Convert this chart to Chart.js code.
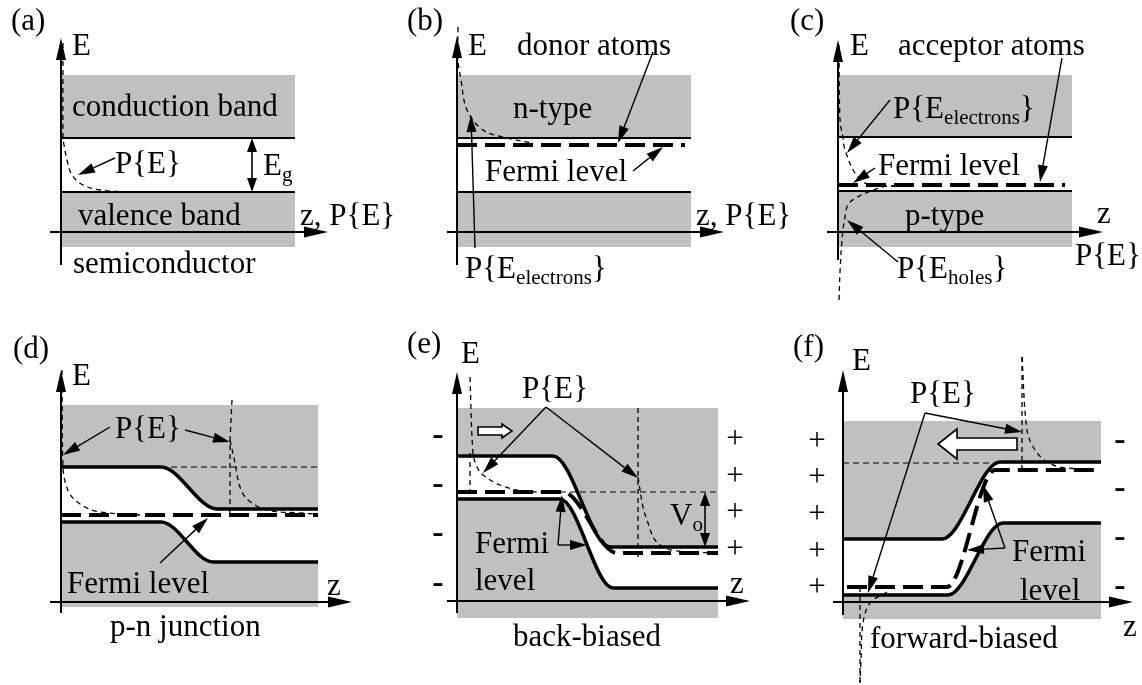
<!DOCTYPE html>
<html>
<head>
<meta charset="utf-8">
<script src="https://cdn.jsdelivr.net/npm/chart.js@4.4.0/dist/chart.umd.min.js"></script>
<style>
  body { margin: 0; background: #fff; }
  canvas { display: block; }
</style>
</head>
<body>
<canvas id="bands" width="1142" height="685"></canvas>
<script>
// ---- data: z (position) and E (energy) values per panel, arbitrary units ----
// (a) intrinsic semiconductor
var aBoxes = [[0, 234, 157, 94], [0, 234, 40, -15]];      // [z0, z1, Etop, Ebottom]
var aConduction = [[0, 94], [234, 94]];
var aValence = [[0, 40], [234, 40]];
var aProb = [[2, 189], [2, 94], [3, 87], [6, 72], [11, 57], [22, 47], [39, 42], [69, 40]];

// (b) n-type
var bBoxes = [[0, 234, 157, 94], [0, 234, 40, -15]];
var bConduction = [[0, 94], [234, 94]];
var bValence = [[0, 40], [234, 40]];
var bFermi = [[0, 87], [228, 87]];
var bProb = [[1, 205], [1, 172], [4, 152], [10, 122], [26, 102], [50, 94], [75, 89]];

// (c) p-type
var cBoxes = [[0, 234, 157, 95], [0, 234, 41, -15]];
var cConduction = [[0, 95], [234, 95]];
var cValence = [[0, 41], [234, 41]];
var cFermi = [[0, 47], [227, 47]];
var cElectrons = [[1, 187], [2, 112], [5, 94], [7, 82], [17, 59], [29, 48], [47, 46], [67, 46]];
var cHoles = [[67, 46], [45, 45], [12, 30], [7, 15], [4, -8], [2, -40], [1, -70]];

// (d) p-n junction
var dBoxes = [[0, 257, 197, -5]];
var dConduction = [[0, 135], [100, 135], [156, 93], [257, 93]];
var dValence = [[0, 80], [100, 80], [152, 40], [257, 40]];
var dFermi = [[0, 87], [257, 87]];
var dRef = [[100, 135], [257, 135]];
var dProbLeft = [[1, 232], [2, 135], [5, 117], [11, 105], [24, 95], [39, 90], [79, 87]];
var dProbRightAxis = [[171, 202], [169, 162], [169, 87]];
var dProbRight = [[169, 162], [174, 139], [179, 115], [187, 102], [206, 92], [239, 89], [257, 88]];

// (e) back-biased
var eBoxes = [[0, 261, 193, -17]];
var eConduction = [[0, 145], [96, 145], [153, 54], [261, 54]];
var eValence = [[0, 102], [103, 102], [156, 13], [261, 13]];
var eFermi = [[0, 109], [106, 109], [160, 48], [261, 48]];
var eRef = [[93, 109], [261, 109]];
var eProbLeftAxis = [[13, 148], [13, 109]];
var eProbLeft = [[13, 224], [16, 148], [20, 134], [26, 126], [43, 116], [66, 110], [93, 109]];
var eProbRightAxis = [[181, 193], [181, 44]];
var eProbRight = [[181, 124], [186, 94], [191, 78], [198, 61], [211, 52], [233, 49], [258, 48]];

// (f) forward-biased
var fBoxes = [[0, 258, 181, -17]];
var fConduction = [[0, 63], [99, 63], [157, 140], [258, 140]];
var fValence = [[0, 7], [105, 7], [160, 79], [258, 79]];
var fFermi = [[4, 15], [104, 15], [152, 132], [255, 132]];
var fRef = [[0, 139], [164, 139]];
var fProbLeftAxis = [[17, 15], [17, -81]];
var fProbLeft = [[44, 10], [27, -1], [20, -21], [18, -58], [17, -81]];
var fProbRightAxis = [[179, 245], [179, 130]];
var fProbRight = [[179, 245], [184, 172], [192, 152], [204, 140], [217, 135], [237, 133]];

// ---- labels and arrows, placed in each panel's (z, E) units ----
var notes = {
  a: {
    axes: { x: [-11, 267], y: [-33, 194] },
    texts: [['(a)', -50, 210], ['E', 11, 185], ['conduction band', 11, 124], ['P{E}', 54, 67],
            ['E', 202, 65, 'g'], ['valence band', 17, 15], ['z, P{E}', 239, 15], ['semiconductor', 12, -33]],
    arrows: [[[54, 74], [17, 57]]],
    doubles: [[[191, 94], [191, 40]]]
  },
  b: {
    axes: { x: [-10, 267], y: [-33, 196] },
    texts: [['(b)', -50, 210], ['E', 11, 185], ['donor atoms', 60, 185], ['n-type', 56, 122],
            ['Fermi level', 28, 59], ['z, P{E}', 239, 15], ['P{E', 8, -38, 'electrons', '}']],
    arrows: [[[196, 180], [161, 89]], [[176, 61], [206, 85]], [[18, -16], [14, 117]]]
  },
  c: {
    axes: { x: [-11, 265], y: [-28, 192] },
    texts: [['(c)', -48, 210], ['E', 12, 185], ['acceptor atoms', 60, 185], ['P{E', 55, 122, 'electrons', '}'],
            ['Fermi level', 40, 65], ['p-type', 67, 15], ['z', 259, 17], ['P{E}', 237, -25],
            ['P{E', 59, -38, 'holes', '}']],
    arrows: [[[224, 174], [202, 50]], [[52, 132], [9, 79]], [[37, 64], [15, 49]], [[60, -30], [9, 12]]]
  },
  d: {
    axes: { x: [-11, 291], y: [-11, 232] },
    texts: [['(d)', -48, 252], ['E', 11, 225], ['P{E}', 54, 172], ['Fermi level', 6, 17],
            ['z', 266, 15], ['p-n junction', 49, -26]],
    arrows: [[[49, 175], [2, 147]], [[124, 172], [169, 160]], [[99, 39], [147, 84]]]
  },
  e: {
    axes: { x: [-10, 293], y: [-12, 229] },
    texts: [['(e)', -50, 256], ['E', 4, 246], ['P{E}', 65, 211], ['Fermi', 18, 56], ['level', 18, 19],
            ['V', 213, 84, 'o'], ['z', 273, 16], ['back-biased', 56, -37]],
    arrows: [[[89, 194], [26, 128]], [[89, 194], [181, 123]], [[101, 56], [105, 106]], [[101, 56], [130, 56]]],
    doubles: [[[248, 109], [248, 54]]],
    signs: [['-', -19, 165], ['-', -19, 116], ['-', -19, 67], ['-', -19, 17],
            ['+', 278, 161], ['+', 278, 124], ['+', 278, 88], ['+', 278, 51]],
    open: [{ tail: [21, 170], tip: [55, 170], body: 4, head: 7, len: 10 }]
  },
  f: {
    axes: { x: [-10, 290], y: [-13, 232] },
    texts: [['(f)', -50, 254], ['E', 9, 240], ['P{E}', 67, 207], ['Fermi', 169, 49], ['level', 177, 10],
            ['z', 280, -26], ['forward-biased', 27, -38]],
    arrows: [[[82, 189], [179, 170]], [[82, 189], [25, 9]], [[162, 54], [140, 117]], [[162, 54], [124, 52]]],
    signs: [['+', -26, 160], ['+', -26, 124], ['+', -26, 87], ['+', -26, 50], ['+', -26, 14],
            ['-', 277, 161], ['-', 277, 113], ['-', 277, 64], ['-', 277, 15]],
    open: [{ tail: [174, 158], tip: [95, 158], body: 6, head: 15, len: 19 }]
  }
};

// ---- layout: where each panel's axes cross on the page ----
var W = 1142, H = 685;
var origins = { a: [61, 232], b: [457, 232], c: [838, 232], d: [61, 602], e: [457, 601], f: [843, 602] };
var GRAY = '#c0c0c0';
var SERIF = '"Liberation Serif", "Times New Roman", serif';

var scales = {};
Object.keys(origins).forEach(function(p) {
  var o = origins[p];
  scales['x' + p] = { type: 'linear', display: false, min: -o[0], max: W - o[0] };
  scales['y' + p] = { type: 'linear', display: false, min: o[1] - H, max: o[1] };
});

var thin = { borderWidth: 1.8 };
var band = { borderWidth: 3.5, cubicInterpolationMode: 'monotone' };
var fermi = { borderWidth: 4, borderDash: [20, 8], cubicInterpolationMode: 'monotone' };
var prob = { borderWidth: 1.3, borderDash: [5, 4], tension: 0.35 };
var probStraight = { borderWidth: 1.3, borderDash: [5, 4] };
var ref = { borderWidth: 1.2, borderDash: [6, 4] };

var datasets = [];
function add(panel, data, style, extra) {
  var ds = Object.assign({
    data: data.map(function(p) { return { x: p[0], y: p[1] }; }),
    xAxisID: 'x' + panel, yAxisID: 'y' + panel,
    pointRadius: 0, borderColor: '#000', fill: false, tension: 0, order: 1
  }, style, extra || {});
  datasets.push(ds);
  return datasets.length - 1;
}
function boxes(panel, list) {
  list.forEach(function(r) {
    add(panel, [[r[0], r[2]], [r[1], r[2]]], { borderWidth: 0, fill: { value: r[3] }, backgroundColor: GRAY, order: 5 });
  });
}
// band edges with the white gap between them
function bentBands(panel, upper, lower) {
  var lo = add(panel, lower, band, { order: 2 });
  add(panel, upper, band, { order: 3, fill: lo, backgroundColor: '#fff' });
}

boxes('a', aBoxes);
add('a', aConduction, thin);
add('a', aValence, thin);
add('a', aProb, prob);

boxes('b', bBoxes);
add('b', bConduction, thin);
add('b', bValence, thin);
add('b', bFermi, fermi);
add('b', bProb, prob);

boxes('c', cBoxes);
add('c', cConduction, thin);
add('c', cValence, thin);
add('c', cFermi, fermi);
add('c', cElectrons, prob);
add('c', cHoles, prob);

boxes('d', dBoxes);
bentBands('d', dConduction, dValence);
add('d', dFermi, fermi);
add('d', dRef, ref);
add('d', dProbLeft, prob);
add('d', dProbRightAxis, probStraight);
add('d', dProbRight, prob);

boxes('e', eBoxes);
bentBands('e', eConduction, eValence);
add('e', eFermi, fermi);
add('e', eRef, ref);
add('e', eProbLeftAxis, probStraight);
add('e', eProbLeft, prob);
add('e', eProbRightAxis, probStraight);
add('e', eProbRight, prob);

boxes('f', fBoxes);
bentBands('f', fConduction, fValence);
add('f', fFermi, fermi);
add('f', fRef, ref);
add('f', fProbLeftAxis, probStraight);
add('f', fProbLeft, prob);
add('f', fProbRightAxis, probStraight);
add('f', fProbRight, prob);

function arrow(ctx, a, b, len, half, width) {
  var ang = Math.atan2(b[1] - a[1], b[0] - a[0]);
  var bx = b[0] - len * Math.cos(ang), by = b[1] - len * Math.sin(ang);
  ctx.lineWidth = width;
  ctx.beginPath(); ctx.moveTo(a[0], a[1]); ctx.lineTo(bx, by); ctx.stroke();
  ctx.beginPath();
  ctx.moveTo(b[0], b[1]);
  ctx.lineTo(bx + half * Math.sin(ang), by - half * Math.cos(ang));
  ctx.lineTo(bx - half * Math.sin(ang), by + half * Math.cos(ang));
  ctx.closePath(); ctx.fill();
}

var notesPlugin = {
  id: 'notes',
  afterDatasetsDraw: function(chart) {
    var ctx = chart.ctx;
    ctx.save();
    ctx.strokeStyle = '#000';
    ctx.fillStyle = '#000';
    ctx.setLineDash([]);
    Object.keys(notes).forEach(function(p) {
      var n = notes[p];
      var xs = chart.scales['x' + p], ys = chart.scales['y' + p];
      var px = function(pt) { return [xs.getPixelForValue(pt[0]), ys.getPixelForValue(pt[1])]; };

      // axes
      arrow(ctx, px([n.axes.x[0], 0]), px([n.axes.x[1], 0]), 24, 5.5, 2);
      arrow(ctx, px([0, n.axes.y[0]]), px([0, n.axes.y[1]]), 22, 5, 2);

      (n.arrows || []).forEach(function(a) { arrow(ctx, px(a[0]), px(a[1]), 17, 5, 1.4); });
      (n.doubles || []).forEach(function(a) {
        var p0 = px(a[0]), p1 = px(a[1]);
        var mid = [(p0[0] + p1[0]) / 2, (p0[1] + p1[1]) / 2];
        arrow(ctx, mid, p0, 14, 5, 1.6);
        arrow(ctx, mid, p1, 14, 5, 1.6);
      });

      (n.open || []).forEach(function(o) {
        var t = px(o.tail), h = px(o.tip);
        var dir = h[0] > t[0] ? 1 : -1;
        var base = h[0] - dir * o.len, y = t[1];
        ctx.beginPath();
        ctx.moveTo(t[0], y - o.body);
        ctx.lineTo(base, y - o.body);
        ctx.lineTo(base, y - o.head);
        ctx.lineTo(h[0], y);
        ctx.lineTo(base, y + o.head);
        ctx.lineTo(base, y + o.body);
        ctx.lineTo(t[0], y + o.body);
        ctx.closePath();
        ctx.fillStyle = '#fff'; ctx.fill();
        ctx.lineWidth = 1.6; ctx.stroke();
        ctx.fillStyle = '#000';
      });

      ctx.textBaseline = 'middle';
      (n.texts || []).forEach(function(t) {
        var q = px([t[1], t[2]]);
        ctx.textAlign = 'left';
        ctx.font = '31px ' + SERIF;
        ctx.fillText(t[0], q[0], q[1]);
        if (t[3]) {
          var x = q[0] + ctx.measureText(t[0]).width;
          ctx.font = '21px ' + SERIF;
          ctx.fillText(t[3], x, q[1] + 8);
          x += ctx.measureText(t[3]).width;
          if (t[4]) {
            ctx.font = '31px ' + SERIF;
            ctx.fillText(t[4], x, q[1]);
          }
        }
      });
      (n.signs || []).forEach(function(s) {
        var q = px([s[1], s[2]]);
        ctx.textAlign = 'center';
        ctx.font = (s[0] === '-' ? 'bold 34px ' : '31px ') + SERIF;
        ctx.fillText(s[0], q[0], q[1]);
      });
    });
    ctx.restore();
  }
};

new Chart(document.getElementById('bands'), {
  type: 'line',
  data: { datasets: datasets },
  options: {
    responsive: false,
    animation: false,
    devicePixelRatio: 1,
    layout: { padding: 0 },
    events: [],
    scales: scales,
    plugins: { legend: { display: false }, tooltip: { enabled: false } }
  },
  plugins: [notesPlugin]
});
</script>
</body>
</html>
